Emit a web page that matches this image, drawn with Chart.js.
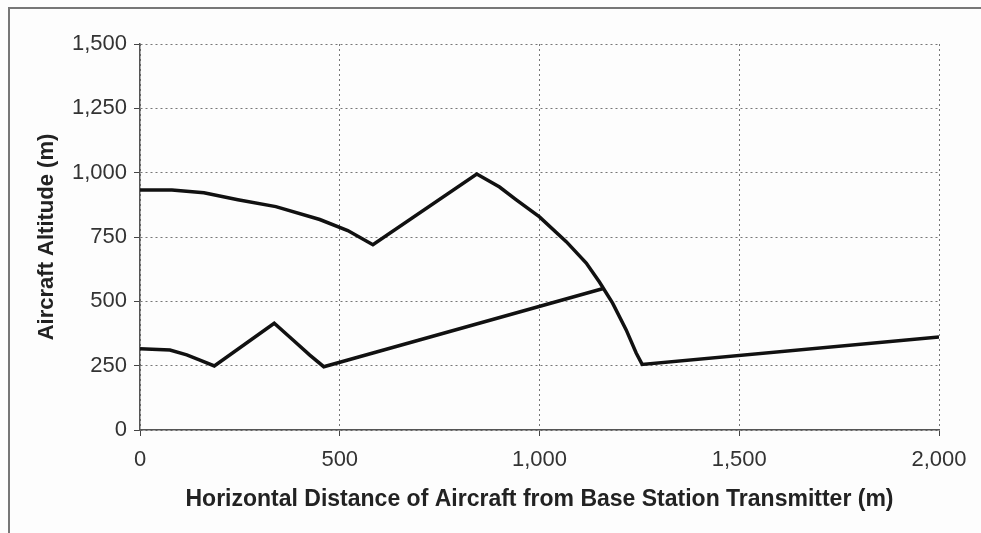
<!DOCTYPE html>
<html>
<head>
<meta charset="utf-8">
<script src="https://cdn.jsdelivr.net/npm/chart.js@4"></script>
<style>
    html, body { margin: 0; padding: 0; background: #fdfdfd; }
    #wrap { position: relative; width: 981px; height: 533px; }
</style>
</head>
<body>
<div id="wrap"><canvas id="altChart" width="981" height="533"></canvas></div>
<script>
// ==========================================
// Aircraft altitude vs horizontal distance
// ==========================================

// upper boundary (m)
const upperDist = [0, 80, 160, 245, 340, 450, 520, 583, 843, 900, 942, 1000, 1067, 1117, 1150, 1183, 1217, 1242, 1257, 2000];
const upperAlt  = [933, 933, 922, 895, 868, 818, 775, 720, 995, 944, 894, 828, 732, 649, 575, 493, 389, 299, 255, 361];

// lower boundary (m)
const lowerDist = [0, 75, 117, 150, 186, 336, 383, 425, 460, 1162];
const lowerAlt  = [316, 311, 292, 272, 249, 415, 350, 291, 246, 551];

const xTicks = [0, 500, 1000, 1500, 2000];
const yTicks = [0, 250, 500, 750, 1000, 1250, 1500];

const xTitle = 'Horizontal Distance of Aircraft from Base Station Transmitter (m)';
const yTitle = 'Aircraft Altitude (m)';

const toPoints = (xs, ys) => xs.map((x, i) => ({ x, y: ys[i] }));

const lineStyle = {
    showLine: true,
    borderColor: '#111',
    borderWidth: 3.5,
    pointRadius: 0,
    tension: 0,
    fill: false
};

// scanned-page frame around the chart
const framePlugin = {
    id: 'frame',
    beforeDraw(chart) {
        const ctx = chart.ctx;
        ctx.save();
        ctx.fillStyle = '#fdfdfd';
        ctx.fillRect(0, 0, chart.width, chart.height);
        ctx.strokeStyle = '#777';
        ctx.lineWidth = 2;
        ctx.strokeRect(9, 8, chart.width + 20, chart.height + 20);
        ctx.restore();
    }
};

const gridStyle = {
    color: '#777',
    lineWidth: 1,
    tickLength: 6,
    tickColor: '#444',
    tickBorderDash: [],
    tickWidth: 1
};

// in Chart.js v4 border.dash styles the grid lines, the axis line stays solid
const borderStyle = { display: true, color: '#555', width: 1.5, dash: [2, 3] };

const tickFont = { family: "'Liberation Sans', Arial, sans-serif", size: 22 };

new Chart(document.getElementById('altChart'), {
    type: 'scatter',
    data: {
        datasets: [
            { data: toPoints(upperDist, upperAlt), ...lineStyle },
            { data: toPoints(lowerDist, lowerAlt), ...lineStyle }
        ]
    },
    options: {
        responsive: false,
        animation: false,
        layout: { padding: { top: 44, right: 42, bottom: 0, left: 0 } },
        plugins: { legend: { display: false }, tooltip: { enabled: false } },
        scales: {
            x: {
                type: 'linear',
                min: 0,
                max: 2000,
                afterBuildTicks: s => { s.ticks = xTicks.map(v => ({ value: v })); },
                afterFit: s => { s.height = 103; },
                grid: gridStyle,
                border: borderStyle,
                ticks: {
                    color: '#333',
                    font: tickFont,
                    padding: 11,
                    maxRotation: 0,
                    callback: v => v.toLocaleString('en-US')
                },
                title: {
                    display: true, text: xTitle, color: '#222',
                    font: { family: "'Liberation Sans', Arial, sans-serif", size: 23, weight: 'bold' },
                    padding: { top: 0, bottom: 20 }
                }
            },
            y: {
                type: 'linear',
                min: 0,
                max: 1500,
                afterBuildTicks: s => { s.ticks = yTicks.map(v => ({ value: v })); },
                afterFit: s => { s.width = 140; },
                grid: gridStyle,
                border: borderStyle,
                ticks: {
                    color: '#333',
                    font: tickFont,
                    padding: 7,
                    callback: v => v.toLocaleString('en-US')
                },
                title: {
                    display: true, text: yTitle, color: '#222',
                    font: { family: "'Liberation Sans', Arial, sans-serif", size: 22, weight: 'bold' },
                    padding: { top: 34, bottom: 0 }
                }
            }
        }
    },
    plugins: [framePlugin]
});
</script>
</body>
</html>
